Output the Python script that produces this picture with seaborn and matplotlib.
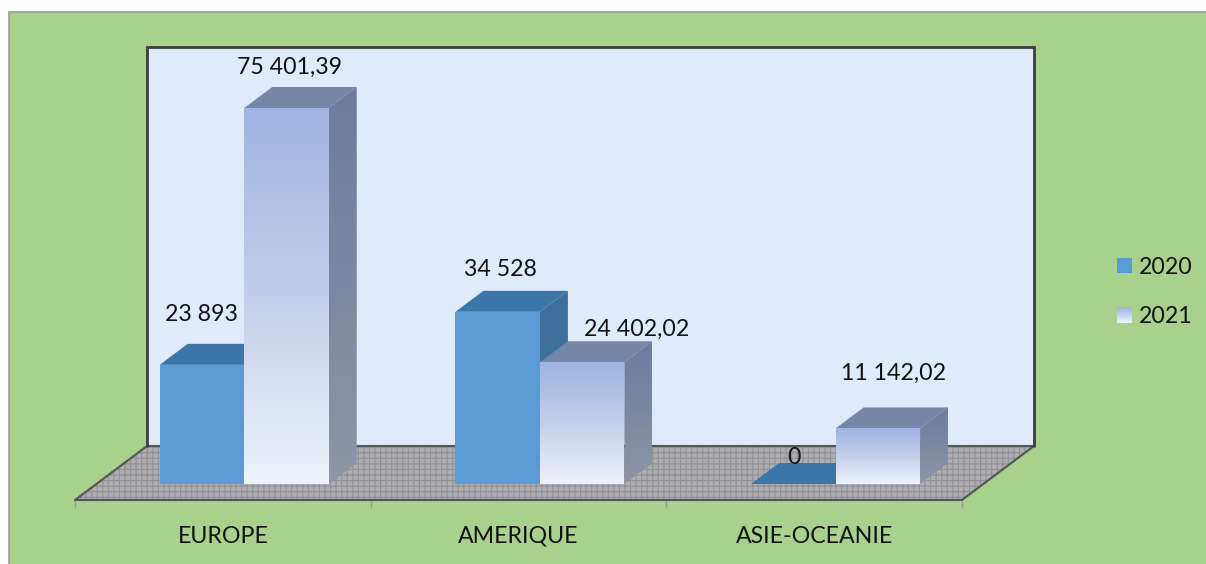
import numpy as np
import pandas as pd
import seaborn as sns
import matplotlib
matplotlib.use("Agg")
import matplotlib.pyplot as plt
from matplotlib.patches import Polygon, Rectangle
from matplotlib.colors import LinearSegmentedColormap
from matplotlib.legend_handler import HandlerBase

regions = ["EUROPE", "AMERIQUE", "ASIE-OCEANIE"]
years = ["2020", "2021"]
values_2020 = [23893, 34528, 0]
values_2021 = [75401.39, 24402.02, 11142.02]
labels_2020 = ["23 893", "34 528", "0"]
labels_2021 = ["75 401,39", "24 402,02", "11 142,02"]

W, H = 1206, 564
sns.set_theme(style="white")
plt.rcParams["font.family"] = ["Lato", "DejaVu Sans"]
plt.rcParams["hatch.linewidth"] = 0.8
FS = 16.7

C_2020 = "#5b9bd5"
GREEN = "#a9d18e"
WALL = "#dfeafa"

def rect_px(l, t, r, b):
    return [l / W, 1 - b / H, (r - l) / W, (b - t) / H]

fig = plt.figure(figsize=(W / 100, H / 100), dpi=100, facecolor="white")

# backdrop: chart area, wall and floor, in pixel space
bg = fig.add_axes([0, 0, 1, 1], zorder=0)
bg.set_xlim(0, W)
bg.set_ylim(H, 0)
bg.axis("off")
bg.add_patch(Rectangle((9, 12), W, H, fc=GREEN, ec="#9a9a9a", lw=1.2))
bg.add_patch(Rectangle((147, 47), 887, 399, fc=WALL, ec="none"))
bg.plot([147, 147, 1034, 1034], [446, 47, 47, 446], color="#3c3c3c", lw=2, solid_joinstyle="miter")
floor = [(75, 500), (147, 446), (1034, 446), (962, 500)]
bg.add_patch(Polygon(floor, fc="#aeaeb2", ec="#909095", hatch="+++", lw=0))
bg.add_patch(Polygon(floor, fc="none", ec="#555555", lw=1.5))

# category axis along the front edge of the floor
ax_x = fig.add_axes(rect_px(75, 470, 962, 500), zorder=1)
ax_x.patch.set_alpha(0)
for s in ["top", "left", "right"]:
    ax_x.spines[s].set_visible(False)
ax_x.spines["bottom"].set_color("#555555")
ax_x.spines["bottom"].set_linewidth(1.4)
ax_x.set_xlim(-0.5, 2.5)
ax_x.set_yticks([])
ax_x.set_xticks(np.arange(len(regions)))
ax_x.set_xticklabels(regions, fontsize=FS, color="#111111")
ax_x.set_xticks(np.arange(len(regions) + 1) - 0.5, minor=True)
ax_x.tick_params(axis="x", which="major", length=0, pad=18.5)
ax_x.tick_params(axis="x", which="minor", length=6, width=1, color="#9a9a9a", bottom=True)

# bars: seated on the floor, slightly behind its front edge
df = pd.DataFrame({
    "region": regions * 2,
    "year": [years[0]] * 3 + [years[1]] * 3,
    "value": values_2020 + values_2021,
})
ax = fig.add_axes(rect_px(96.4, 46, 983.4, 484), zorder=2)
sns.barplot(data=df, x="region", y="value", hue="year", hue_order=years,
            palette=[C_2020, "#dfe6f6"], width=0.5716, gap=0, dodge=True,
            saturation=1, legend=False, ax=ax)
ymax = 87833
ax.set_ylim(0, ymax)
ax.set_xlim(-0.5, 2.5)
ax.axis("off")

ppx = 3 / 887          # data x per pixel
ppy = ymax / 438       # data y per pixel
DX, DY = 28 * ppx, 21 * ppy
cmap_front = LinearSegmentedColormap.from_list("f", ["#9fb4e2", "#c3cfea", "#eef2fb"])
cmap_side = LinearSegmentedColormap.from_list("s", ["#6a7c9f", "#8f95a4"])
grad = np.linspace(0, 1, 256)[:, None]

def gradient(poly_pts, bbox, cmap, z):
    x0, x1, y0, y1 = bbox
    im = ax.imshow(grad, cmap=cmap, extent=[x0, x1, y0, y1], origin="upper",
                   aspect="auto", zorder=z, interpolation="bilinear", clip_on=True)
    clip = Polygon(poly_pts, transform=ax.transData, fc="none", ec="none")
    im.set_clip_path(clip)

n = len(regions)
bars = list(ax.patches)
for i, bar in enumerate(bars):
    x0, w, h = bar.get_x(), bar.get_width(), bar.get_height()
    x1 = x0 + w
    is21 = i >= n
    z = 3 if is21 else 2
    bar.set_zorder(z + 0.2)
    bar.set_edgecolor("none")
    top = [(x0, h), (x0 + DX, h + DY), (x1 + DX, h + DY), (x1, h)]
    side = [(x1, 0), (x1 + DX, DY), (x1 + DX, h + DY), (x1, h)]
    if is21:
        ax.add_patch(Polygon(top, fc="#7586a9", ec="none", zorder=z + 0.1))
        gradient(side, (x1, x1 + DX, 0, h + DY), cmap_side, z + 0.1)
        bar.set_visible(False)
        gradient([(x0, 0), (x0, h), (x1, h), (x1, 0)], (x0, x1, 0, h), cmap_front, z + 0.2)
    else:
        ax.add_patch(Polygon(top, fc="#3c76a9", ec="none", zorder=z + 0.1))
        if h > 0:
            ax.add_patch(Polygon(side, fc="#3f6f9c", ec="none", zorder=z + 0.1))

ax.set_ylim(0, ymax)
ax.set_xlim(-0.5, 2.5)

# data labels
offs_2020 = [(-1, 50), (3, 42), (1, 26)]
offs_2021 = [(3, 41), (54, 33), (16, 55)]
for i, bar in enumerate(bars):
    is21 = i >= n
    txt = (labels_2021 if is21 else labels_2020)[i % n]
    off = (offs_2021 if is21 else offs_2020)[i % n]
    ax.annotate(txt, (bar.get_x() + bar.get_width() / 2, bar.get_height()),
                xytext=off, textcoords="offset pixels", ha="center", va="center",
                fontsize=FS, color="#111111", zorder=6, annotation_clip=False)

# legend
class GradHandler(HandlerBase):
    def create_artists(self, legend, orig, xd, yd, width, height, fontsize, trans):
        out = []
        steps = 24
        for k in range(steps):
            c = cmap_front(k / (steps - 1))
            out.append(Rectangle((-xd, -yd + height * (1 - (k + 1) / steps)), width,
                                 height / steps + 0.3, fc=c, ec="none", transform=trans))
        return out

h20 = Rectangle((0, 0), 1, 1, fc=C_2020, ec="none")
h21 = Rectangle((0, 0), 1, 1, fc="#c3cfea", ec="none")
fig.legend([h20, h21], years, handler_map={h21: GradHandler()},
           loc="center left", bbox_to_anchor=(1117 / W, 1 - 292 / H), frameon=False,
           fontsize=FS, handlelength=0.65, handleheight=0.65, handletextpad=0.28,
           labelspacing=1.25, borderpad=0, borderaxespad=0, labelcolor="#111111")

fig.savefig("out.png", dpi=100, facecolor="white")
